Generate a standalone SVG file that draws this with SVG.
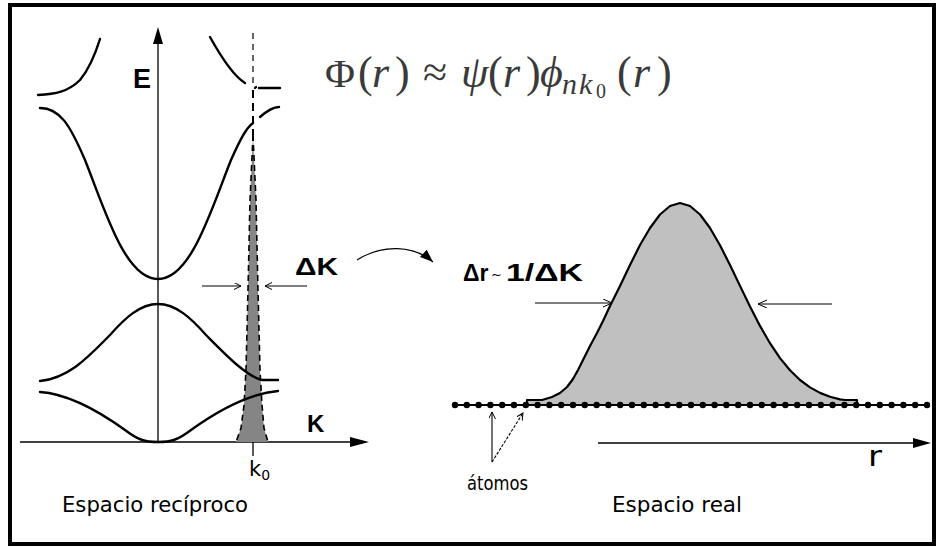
<svg xmlns="http://www.w3.org/2000/svg" width="940" height="547" viewBox="0 0 940 547">
<style>
.band{fill:none;stroke:#000;stroke-width:2.4;stroke-linecap:round;stroke-linejoin:round}
.axis{fill:none;stroke:#000;stroke-width:1.3}
.thin{fill:none;stroke:#000;stroke-width:1.1}
.lbl{font-family:"DejaVu Sans",sans-serif;fill:#000}
.bold{font-family:"Liberation Sans",Arial,sans-serif;font-weight:bold;fill:#000}
.math{font-family:"Liberation Serif","DejaVu Serif",serif;fill:#3a3a3a}
</style>
<defs>
<marker id="open" markerWidth="12" markerHeight="10" refX="9" refY="4" orient="auto" markerUnits="userSpaceOnUse">
<path d="M0,0 L9,4 L0,8" fill="none" stroke="#000" stroke-width="1"/>
</marker>
<marker id="openS" markerWidth="10" markerHeight="8" refX="7" refY="3.5" orient="auto" markerUnits="userSpaceOnUse">
<path d="M0,0 L7,3.5 L0,7" fill="none" stroke="#000" stroke-width="1"/>
</marker>
<marker id="fill" markerWidth="16" markerHeight="12" refX="13" refY="5" orient="auto" markerUnits="userSpaceOnUse">
<path d="M0,0 L13,5 L0,10 Z" fill="#000"/>
</marker>
</defs>
<rect x="10" y="5" width="924" height="539" fill="#fff" stroke="#000" stroke-width="4"/>

<g id="reciprocal-space">
<g id="axes">
<line class="axis" x1="158" y1="42" x2="158" y2="442"/>
<path d="M158,27 L163,44 L153,44 Z" fill="#000"/>
<line class="axis" x1="20" y1="442" x2="352" y2="442"/>
<path d="M369,442 L350,437 L350,447 Z" fill="#000"/>
<line class="axis" x1="253" y1="442" x2="253" y2="456"/>
</g>
<g id="peak">
<path d="M253,135 L256,200 L258,290 L260,370 L262,405 L264,428 L268,442 L236,442 L241,428 L244,405 L246,370 L248,290 L250,200 Z" fill="#858585"/>
<path d="M253,135 L256,200 L258,290 L260,370 L262,405 L264,428 L268,442" fill="none" stroke="#000" stroke-width="1.6" stroke-dasharray="6 4"/>
<path d="M253,135 L250,200 L248,290 L246,370 L244,405 L241,428 L236,442" fill="none" stroke="#000" stroke-width="1.6" stroke-dasharray="6 4"/>
<line x1="253" y1="33" x2="253" y2="84" stroke="#000" stroke-width="1.2" stroke-dasharray="6 5"/>
<line x1="253" y1="90" x2="253" y2="135" stroke="#000" stroke-width="2" stroke-dasharray="8 5"/>
</g>
<g id="bands">
<path class="band" d="M38,95 C55,94 68,92 80,80 C90,68 95,55 100,39"/>
<path class="band" d="M210,37 C220,55 232,75 245,83"/>
<path class="band" d="M255,88 L256,87 M259,88 L280,88"/>
<path class="band" d="M40,108 C60,108 70,125 85,160 C105,210 125,279 158,279 C191,279 211,210 231,160 C240,140 246,128 253,123"/>
<path class="band" d="M260,117 C268,110 274,107 279,107"/>
<path class="band" d="M40,381 C70,378 90,355 110,335 C125,318 140,304 158,304 C176,304 191,318 206,335 C226,355 246,376 262,380 L278,380"/>
<path class="band" d="M40,392 C70,394 100,412 125,430 C138,440 145,442 158,442 C171,442 178,440 191,430 C216,412 246,394 278,391"/>
</g>
<g id="deltaK-arrows">
<line class="thin" x1="202" y1="286" x2="241" y2="286" marker-end="url(#openS)"/>
<line class="thin" x1="307" y1="286" x2="265" y2="286" marker-end="url(#openS)"/>
</g>
<text class="bold" x="133" y="88" font-size="27">E</text>
<text class="bold" x="307" y="432" font-size="24">K</text>
<text class="bold" x="295" y="275" font-size="23" textLength="43" lengthAdjust="spacingAndGlyphs">ΔK</text>
<text class="lbl" x="249" y="476" font-size="21">k<tspan font-size="14" dy="4">0</tspan></text>
<text class="lbl" x="62" y="512" font-size="21" textLength="186" lengthAdjust="spacingAndGlyphs">Espacio recíproco</text>
</g>

<g id="formula">
<text class="math" font-size="44" y="87"><tspan x="325" font-size="41">Φ</tspan><tspan x="358">(</tspan><tspan x="372" font-style="italic">r</tspan><tspan x="395">)</tspan><tspan x="423">≈</tspan><tspan x="461" font-style="italic">ψ</tspan><tspan x="488">(</tspan><tspan x="503" font-style="italic">r</tspan><tspan x="526">)</tspan><tspan x="540" font-style="italic">ϕ</tspan><tspan x="617">(</tspan><tspan x="633" font-style="italic">r</tspan><tspan x="657">)</tspan></text>
<text class="math" font-size="30" y="94" font-style="italic"><tspan x="562">n</tspan><tspan x="579">k</tspan></text>
<text class="math" font-size="20" x="596" y="98">0</text>
</g>

<g id="connectors">
<path class="thin" d="M357,260 C382,244 414,245 433,262" marker-end="url(#fill)"/>
</g>

<g id="real-space">
<path id="wavepacket" d="M527,405 L527,400 L542,400 L552,397 L560,393 L567,387 L573,379 L578,370 L583,360 L590,346 L597,333 L603,321 L610,306 L620,286 L630,265 L640,245 L650,228 L660,214.5 L670,206 L680,203 L690,206 L700,214.5 L710,228 L720,245.3 L730,265 L740,285.9 L750,306.5 L760,325.9 L770,343.2 L780,358.1 L790,370.3 L800,380 L810,387.4 L820,392.9 L830,396.7 L840,399.4 L845,400 L857,400 L857,405 Z" fill="#c0c0c0" stroke="#000" stroke-width="2.2" stroke-linejoin="round"/>
<g id="atoms">
<line x1="455" y1="405" x2="927" y2="405" stroke="#000" stroke-width="1.8"/>
<line x1="455" y1="405" x2="927.1" y2="405" stroke="#000" stroke-width="6.4" stroke-linecap="round" stroke-dasharray="0 11.8"/>
</g>
<g id="deltaR-arrows">
<line class="thin" x1="535" y1="303" x2="612" y2="303" marker-end="url(#open)"/>
<line class="thin" x1="832" y1="304" x2="758" y2="304" marker-end="url(#open)"/>
</g>
<g id="r-axis">
<line class="axis" x1="598" y1="443" x2="916" y2="443"/>
<path d="M931,443 L913,438 L913,448 Z" fill="#000"/>
</g>
<g id="atom-arrows">
<line class="thin" x1="492" y1="462" x2="492" y2="412" marker-end="url(#openS)"/>
<line class="thin" x1="492" y1="462" x2="523" y2="413" stroke-dasharray="3 1.5" marker-end="url(#openS)"/>
</g>
<text class="bold" x="463" y="281" font-size="23">Δr</text>
<text class="lbl" x="491" y="279" font-size="13">~</text>
<text class="bold" x="506" y="281" font-size="23" textLength="77" lengthAdjust="spacingAndGlyphs">1/ΔK</text>
<text class="lbl" x="868" y="466" font-size="28" textLength="14" lengthAdjust="spacingAndGlyphs">r</text>
<text class="lbl" x="467" y="490" font-size="20" textLength="61" lengthAdjust="spacingAndGlyphs">átomos</text>
<text class="lbl" x="612" y="512" font-size="21" textLength="130" lengthAdjust="spacingAndGlyphs">Espacio real</text>
</g>
</svg>
